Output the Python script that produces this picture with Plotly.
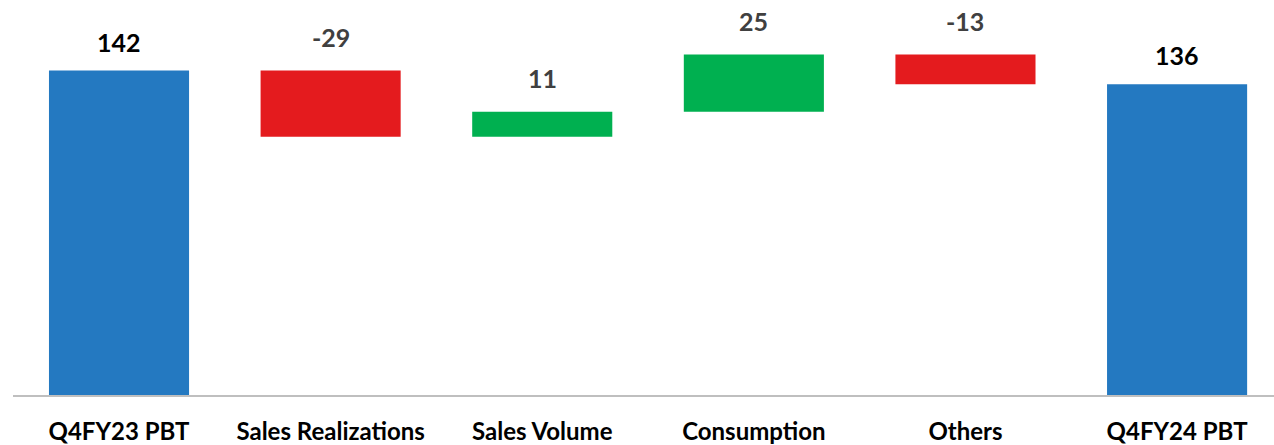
import plotly.graph_objects as go

categories = ["Q4FY23 PBT", "Sales Realizations", "Sales Volume", "Consumption", "Others", "Q4FY24 PBT"]
values = [142, -29, 11, 25, -13, 136]
measures = ["absolute", "relative", "relative", "relative", "relative", "total"]
labels = ["142", "-29", "11", "25", "-13", "136"]

BLUE = "#2479C1"
RED = "#E41B1E"
GREEN = "#00B050"

fig = go.Figure()
fig.add_trace(go.Waterfall(
    x=list(range(len(categories))),
    y=values,
    measure=measures,
    width=0.662,
    increasing=dict(marker=dict(color=GREEN)),
    decreasing=dict(marker=dict(color=RED)),
    totals=dict(marker=dict(color=BLUE)),
    connector=dict(visible=False),
    hoverinfo="skip",
))

# compute bar tops for labels
running = 0
for i, (v, m) in enumerate(zip(values, measures)):
    if m == "absolute":
        running = v
        top = v
        col = "#000000"
        shift = 12
    elif m == "total":
        top = running
        col = "#000000"
        shift = 12
    else:
        prev = running
        running += v
        top = max(prev, running)
        col = "#404040"
        shift = 17
    fig.add_annotation(x=i, y=top, text=labels[i], showarrow=False,
                       yanchor="bottom", yshift=shift,
                       font=dict(family="Lato", size=25, color=col, weight="bold"))

fig.update_layout(
    width=1274, height=445,
    margin=dict(l=13, r=0, t=8, b=48),
    paper_bgcolor="white", plot_bgcolor="white",
    showlegend=False,
    hovermode=False,
    xaxis=dict(
        range=[-0.501, 5.458],
        tickmode="array",
        tickvals=list(range(len(categories))),
        ticktext=categories,
        showline=True, linecolor="#BFBFBF", linewidth=1.5,
        showgrid=False, zeroline=False,
        ticks="", ticklabelstandoff=14,
        tickfont=dict(family="Lato", size=24, color="#000000", weight="bold"),
    ),
    yaxis=dict(range=[0, 169.4], visible=False, showgrid=False, zeroline=False),
)

fig.write_html("out.html", config={"displayModeBar": False},
               post_script="document.body.style.margin='0';")
